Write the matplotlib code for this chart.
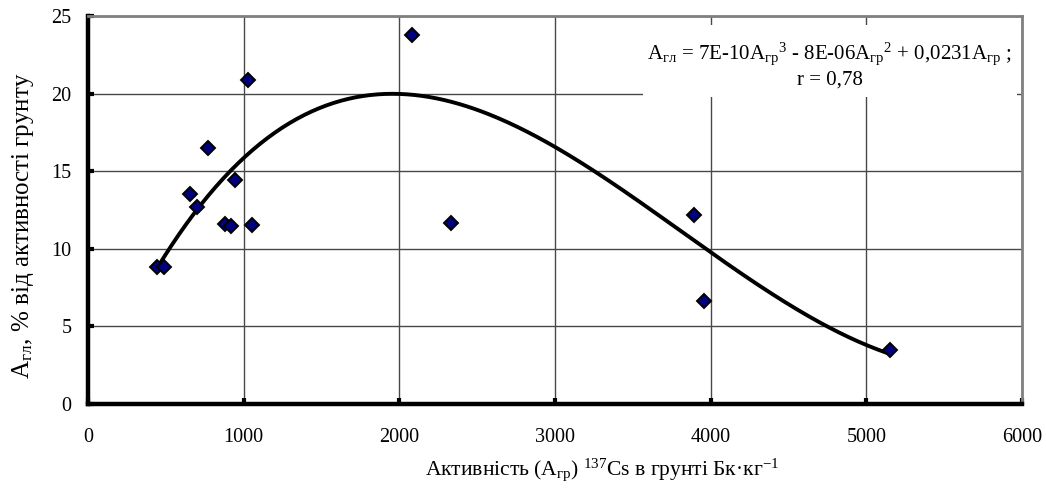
import matplotlib
matplotlib.use("Agg")
import matplotlib.pyplot as plt
import matplotlib.patches as mpatches
import numpy as np

plt.rcParams['font.family'] = ['Liberation Serif', 'DejaVu Serif']
plt.rcParams['mathtext.fontset'] = 'custom'
plt.rcParams['mathtext.rm'] = 'Liberation Serif'
plt.rcParams['mathtext.it'] = 'Liberation Serif:italic'

# activity of 137Cs in soil (Bq/kg) and share (% of soil activity)
a_soil = [444, 487, 654, 698, 769, 878, 921, 942, 1026, 1051, 2083, 2333, 3891, 3955, 5154]
a_share = [8.85, 8.85, 13.55, 12.7, 16.5, 11.6, 11.45, 14.45, 20.85, 11.55, 23.75, 11.65, 12.15, 6.65, 3.48]

# cubic trendline through origin (unrounded values of the printed 7E-10, -8E-06, 0,0231)
trend_coef = [6.96e-10, -7.948e-06, 0.0231]

x_ticks = [0, 1000, 2000, 3000, 4000, 5000, 6000]
y_ticks = [0, 5, 10, 15, 20, 25]

x = np.array(a_soil, dtype=float)
y = np.array(a_share, dtype=float)
xs = np.linspace(x.min(), x.max(), 300)
ys = np.polyval(trend_coef + [0.0], xs)

fig = plt.figure(figsize=(10.46, 4.95), dpi=100)
ax = fig.add_axes([0.0841, 0.1838, 0.893, 0.784])

ax.set_xlim(0, 6000)
ax.set_ylim(0, 25)
ax.set_xticks(x_ticks)
ax.set_yticks(y_ticks)
ax.grid(True, color='#484848', lw=1)
ax.set_axisbelow(True)

ax.plot(xs, ys, color='black', lw=2.8, zorder=3)
ax.plot(x, y, ls='none', marker='D', ms=7.5, mfc='#000080', mec='black', mew=1.4, zorder=4)

for s in ['left', 'bottom']:
    ax.spines[s].set_linewidth(3.2)
    ax.spines[s].set_color('black')
for s in ['top', 'right']:
    ax.spines[s].set_linewidth(2)
    ax.spines[s].set_color('#808080')

ax.tick_params(axis='both', direction='in', length=4, width=3, labelsize=14.5)
ax.tick_params(axis='x', pad=17)
ax.tick_params(axis='y', pad=12)

ax.set_xlabel(r'Активність ($\mathrm{A_{гр}}$) $^{137}$Cs в грунті Бк·кг$^{-1}$', fontsize=15.5)
ax.set_ylabel(r'$\mathrm{A_{гл}}$, % від активності грунту', fontsize=18)
ax.xaxis.set_label_coords(0.55, -0.135)
ax.yaxis.set_label_coords(-0.056, 0.46)

# white label box behind the equation, it hides the grid there
ax.add_patch(mpatches.Rectangle((0.594, 0.791), 0.401, 0.186, transform=ax.transAxes,
                                facecolor='white', edgecolor='none', zorder=2.5))
eq = (r'$\mathrm{A_{гл}}$ = 7E-10$\mathrm{A_{гр}}^{3}$ - 8E-06$\mathrm{A_{гр}}^{2}$'
      r' + 0,0231$\mathrm{A_{гр}}$ ;' + '\n' + 'r = 0,78')
ax.text(0.794, 0.873, eq, transform=ax.transAxes, ha='center', va='center',
        fontsize=15, multialignment='center', linespacing=1.25, zorder=5)

fig.savefig('out.png', dpi=100)
